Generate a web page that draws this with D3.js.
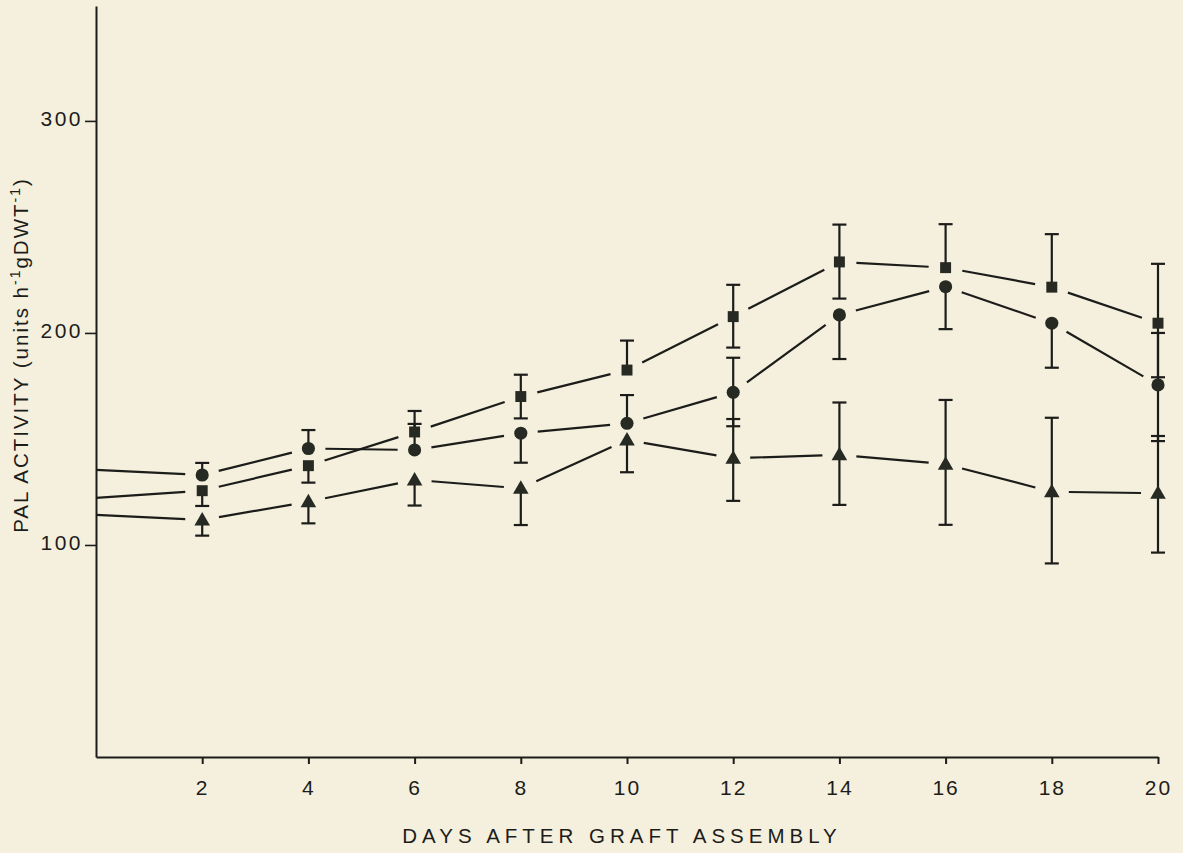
<!DOCTYPE html>
<html>
<head>
<meta charset="utf-8">
<script src="https://cdn.jsdelivr.net/npm/d3@7"></script>
<style>
  html, body { margin: 0; padding: 0; background: #f4f0dd; }
  svg { display: block; }
  text { fill: #1c1c1a; font-family: "Liberation Sans", Arial, sans-serif; }
</style>
</head>
<body>
<svg id="chart" width="1183" height="853"></svg>
<script>
// Sampling days (day 0 = start of the curves at the vertical axis)
const days = [0, 2, 4, 6, 8, 10, 12, 14, 16, 18, 20];
const xTicks = [2, 4, 6, 8, 10, 12, 14, 16, 18, 20];
const yTicks = [100, 200, 300];

// PAL activity, units h^-1 g DWT^-1
const circleValues   = [135.4, 133.0, 145.5, 144.8, 152.7, 157.4, 172.0, 208.5, 221.8, 204.6, 175.5];
const circleErrUp    = [0, 5.7, 8.7, 12.3, 0, 13.3, 16.3, 0, 0, 0, 24.5];
const circleErrDown  = [0, 0, 0, 0, 13.9, 0, 16.0, 20.8, 20.0, 21.0, 26.5];

const squareValues   = [122.2, 125.6, 137.4, 153.3, 170.0, 182.5, 207.7, 233.5, 230.8, 221.6, 204.6];
const squareErrUp    = [0, 0, 0, 9.9, 10.3, 13.9, 15.0, 17.6, 20.5, 25.0, 28.0];
const squareErrDown  = [0, 7.2, 8.0, 0, 10.3, 0, 14.6, 17.3, 0, 0, 25.5];

const triangleValues  = [114.2, 111.8, 120.4, 130.7, 126.7, 149.5, 140.9, 142.5, 138.1, 125.1, 124.4];
const triangleErrUp   = [0, 0, 0, 0, 0, 0, 18.5, 24.7, 30.3, 34.9, 27.0];
const triangleErrDown = [0, 7.4, 10.2, 12.1, 17.3, 15.2, 20.1, 23.6, 28.6, 33.8, 28.0];

const series = [
  { shape: "circle",   values: circleValues,   up: circleErrUp,   down: circleErrDown },
  { shape: "square",   values: squareValues,   up: squareErrUp,   down: squareErrDown },
  { shape: "triangle", values: triangleValues, up: triangleErrUp, down: triangleErrDown }
];

const svg = d3.select("#chart");
const ink = "#1c1c1a";

const x = d3.scaleLinear().domain([0, 20]).range([96, 1158]);
const y = d3.scaleLinear().domain([0, 354.2]).range([757, 6]);

// Axes
const xAxis = svg.append("g").attr("transform", `translate(0,${y(0)})`)
  .call(d3.axisBottom(x).tickValues(xTicks).tickSize(7).tickSizeOuter(0).tickPadding(16));
xAxis.select(".domain").attr("stroke", ink).attr("stroke-width", 2);
xAxis.selectAll(".tick line").attr("stroke", ink).attr("stroke-width", 2);
xAxis.selectAll(".tick text")
  .attr("font-size", 21).attr("letter-spacing", 2)
  .attr("font-family", "'Liberation Sans', Arial, sans-serif").attr("fill", ink);

const yAxis = svg.append("g").attr("transform", `translate(${x(0)},0)`)
  .call(d3.axisLeft(y).tickValues(yTicks).tickSize(11).tickSizeOuter(0).tickPadding(2));
yAxis.select(".domain").attr("stroke", ink).attr("stroke-width", 2);
yAxis.selectAll(".tick line").attr("stroke", ink).attr("stroke-width", 1.6);
yAxis.selectAll(".tick text")
  .attr("font-size", 21).attr("letter-spacing", 2.5)
  .attr("dy", "0.22em")
  .attr("font-family", "'Liberation Sans', Arial, sans-serif").attr("fill", ink);

// Axis titles
svg.append("text")
  .attr("x", 622).attr("y", 843)
  .attr("text-anchor", "middle")
  .attr("font-size", 20.5)
  .attr("letter-spacing", 5)
  .text("DAYS AFTER GRAFT ASSEMBLY");

const yTitle = svg.append("text")
  .attr("transform", "translate(28,355) rotate(-90)")
  .attr("text-anchor", "middle")
  .attr("font-size", 20.5)
  .attr("letter-spacing", 2);
yTitle.append("tspan").text("PAL ACTIVITY (units h");
yTitle.append("tspan").attr("dy", -8).attr("font-size", 14).text("-1");
yTitle.append("tspan").attr("dy", 8).text("gDWT");
yTitle.append("tspan").attr("dy", -8).attr("font-size", 14).text("-1");
yTitle.append("tspan").attr("dy", 8).text(")");

// Series lines: segments stop short of each plotted marker
const gap = 17;
const plot = svg.append("g");
series.forEach(s => {
  const pts = days.map((d, i) => ({ day: d, px: x(d), py: y(s.values[i]) }));
  for (let i = 0; i < pts.length - 1; i++) {
    const a = pts[i], b = pts[i + 1];
    const dx = b.px - a.px, dy = b.py - a.py;
    const len = Math.hypot(dx, dy);
    const ux = dx / len, uy = dy / len;
    const ga = a.day === 0 ? 0 : gap;
    plot.append("line")
      .attr("x1", a.px + ux * ga).attr("y1", a.py + uy * ga)
      .attr("x2", b.px - ux * gap).attr("y2", b.py - uy * gap)
      .attr("stroke", ink).attr("stroke-width", 2.2);
  }
});

// Error bars (one-sided where only one side is shown)
series.forEach(s => {
  days.forEach((d, i) => {
    if (d === 0) return;
    const cx = x(d), v = s.values[i];
    const top = y(v + s.up[i]), bot = y(v - s.down[i]);
    if (top < bot) {
      plot.append("line").attr("x1", cx).attr("x2", cx)
        .attr("y1", top).attr("y2", bot)
        .attr("stroke", ink).attr("stroke-width", 2.2);
    }
    if (s.up[i] > 0) {
      plot.append("line").attr("x1", cx - 7).attr("x2", cx + 7)
        .attr("y1", top).attr("y2", top).attr("stroke", ink).attr("stroke-width", 2.2);
    }
    if (s.down[i] > 0) {
      plot.append("line").attr("x1", cx - 7).attr("x2", cx + 7)
        .attr("y1", bot).attr("y2", bot).attr("stroke", ink).attr("stroke-width", 2.2);
    }
  });
});

// Markers
const sym = {
  circle: d3.symbol().type(d3.symbolCircle).size(135),
  square: d3.symbol().type(d3.symbolSquare).size(120),
  triangle: d3.symbol().type(d3.symbolTriangle).size(105)
};
series.forEach(s => {
  plot.selectAll(null)
    .data(days.map((d, i) => ({ d, v: s.values[i] })).filter(p => p.d !== 0))
    .enter().append("path")
    .attr("d", sym[s.shape])
    .attr("transform", p => `translate(${x(p.d)},${y(p.v) + (s.shape === "triangle" ? 1 : 0)})`)
    .attr("fill", "#262a22");
});
</script>
</body>
</html>
